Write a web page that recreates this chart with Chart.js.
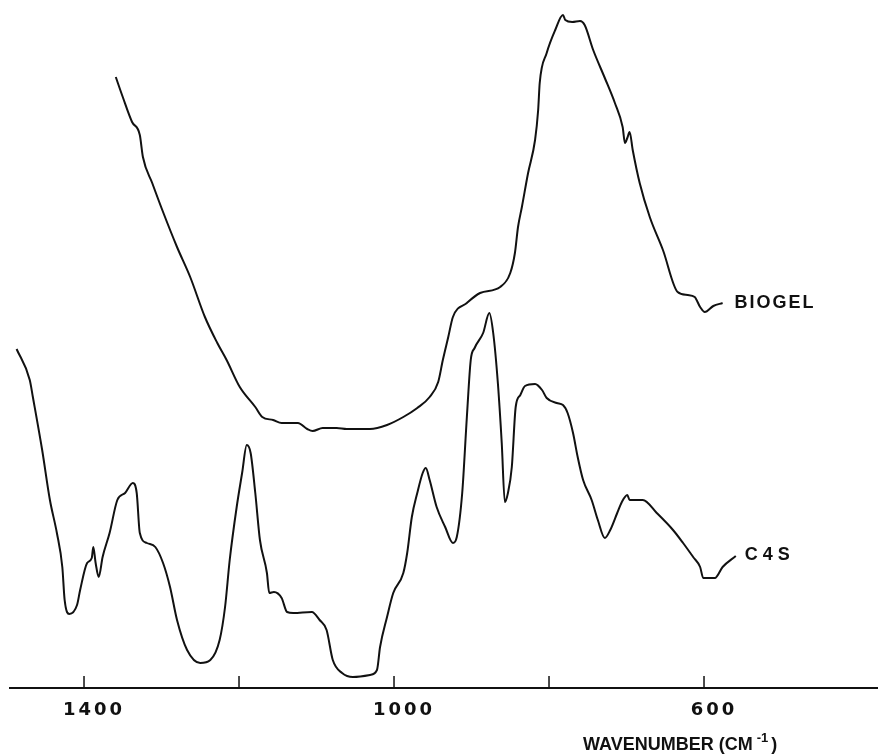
<!DOCTYPE html>
<html>
<head>
<meta charset="utf-8">
<script src="https://cdn.jsdelivr.net/npm/chart.js@4.4.1/dist/chart.umd.min.js"></script>
<style>
  body { margin: 0; background: #fff; }
  #wrap { width: 878px; height: 756px; }
</style>
</head>
<body>
<div id="wrap"><canvas id="grafico" width="878" height="756"></canvas></div>
<script>
// wavenumber (cm-1) and trace height above the baseline
const biogelWave = [1359, 1350, 1338, 1328, 1324, 1312, 1299, 1280, 1263, 1244, 1228, 1216, 1199, 1179, 1170, 1156, 1145, 1124, 1112, 1105, 1092, 1074, 1061, 1031, 1009, 988, 970, 954, 943, 937, 930, 924, 906, 889, 863, 850, 844, 840, 835, 827, 818, 814, 812, 803, 792, 782, 779, 770, 760, 754, 743, 728, 715, 705, 702, 699, 696, 692, 683, 670, 653, 634, 621, 612, 605, 599, 588, 576];
const biogelValue = [611, 591, 566, 553, 531, 505, 478, 441, 411, 371, 345, 328, 301, 281, 271, 268, 265, 265, 259, 257, 260, 260, 259, 259, 263, 271, 280, 291, 306, 328, 351, 371, 385, 395, 401, 415, 435, 461, 481, 515, 548, 578, 605, 635, 658, 673, 668, 666, 667, 663, 638, 610, 585, 561, 545, 550, 556, 538, 505, 471, 438, 396, 393, 391, 381, 376, 382, 385];

const c4sWave = [1487, 1470, 1466, 1454, 1444, 1435, 1428, 1425, 1419, 1409, 1405, 1396, 1390, 1388, 1385, 1381, 1376, 1367, 1357, 1347, 1337, 1332, 1328, 1319, 1308, 1298, 1289, 1280, 1267, 1250, 1237, 1225, 1218, 1212, 1203, 1196, 1190, 1185, 1179, 1173, 1164, 1161, 1155, 1145, 1138, 1130, 1106, 1096, 1087, 1079, 1067, 1053, 1031, 1022, 1018, 1009, 1001, 988, 983, 977, 970, 963, 959, 954, 945, 934, 924, 919, 912, 906, 901, 896, 885, 877, 872, 866, 861, 857, 853, 848, 843, 837, 831, 818, 809, 803, 790, 782, 776, 769, 763, 756, 745, 737, 728, 721, 712, 706, 699, 696, 679, 661, 640, 627, 614, 605, 601, 586, 576, 559];
const c4sValue = [339, 308, 291, 238, 188, 155, 121, 88, 74, 83, 98, 125, 130, 141, 125, 111, 131, 155, 188, 195, 205, 195, 155, 145, 141, 125, 101, 68, 38, 25, 28, 48, 81, 128, 181, 215, 243, 235, 195, 148, 115, 95, 96, 90, 76, 75, 76, 68, 58, 28, 15, 11, 13, 18, 41, 71, 95, 115, 135, 171, 195, 215, 220, 208, 181, 161, 145, 151, 195, 271, 328, 340, 355, 375, 355, 305, 245, 186, 195, 221, 281, 293, 302, 304, 298, 290, 285, 283, 275, 255, 231, 208, 188, 168, 150, 158, 175, 186, 193, 188, 188, 175, 158, 145, 131, 121, 110, 110, 121, 132];

const tickValues = [1400, 1200, 1000, 800, 600];
const tickLabels = ['1400', '', '1000', '', '600'];

const seriesNames = ['BIOGEL', 'C4S'];

function toPoints(xs, ys) {
    return xs.map((x, i) => ({ x: x, y: ys[i] }));
}

// tick marks pointing up, tick labels, curve labels and axis title
const extras = {
    id: 'extras',
    afterDraw(chart) {
        const ctx = chart.ctx;
        const xs = chart.scales.x;
        const base = chart.chartArea.bottom;
        ctx.save();
        ctx.strokeStyle = '#111';
        ctx.fillStyle = '#111';
        ctx.lineWidth = 1.5;
        ctx.textBaseline = 'middle';
        ctx.textAlign = 'center';
        ctx.font = 'bold 18px "DejaVu Sans", sans-serif';
        ctx.letterSpacing = '3px';
        tickValues.forEach((v, i) => {
            const px = xs.getPixelForValue(v);
            ctx.beginPath();
            ctx.moveTo(px, base);
            ctx.lineTo(px, base - 12);
            ctx.stroke();
            if (tickLabels[i]) {
                ctx.fillText(tickLabels[i], px + 10, base + 22);
            }
        });

        ctx.textAlign = 'left';
        ctx.font = 'bold 18px "Liberation Sans", Arial, sans-serif';
        const offsets = [[12, 0, '2px'], [9, -1, '5px']];
        chart.data.datasets.forEach((ds, i) => {
            const meta = chart.getDatasetMeta(i);
            const last = meta.data[meta.data.length - 1];
            ctx.letterSpacing = offsets[i][2];
            ctx.fillText(ds.label, last.x + offsets[i][0], last.y + offsets[i][1]);
        });

        // WAVENUMBER (CM-1)
        ctx.letterSpacing = '0px';
        ctx.font = 'bold 18px "Liberation Sans", Arial, sans-serif';
        let x = 583;
        const y = 745;
        const main = 'WAVENUMBER (CM';
        ctx.fillText(main, x, y);
        x += ctx.measureText(main).width + 4;
        ctx.font = 'bold 13px "Liberation Sans", Arial, sans-serif';
        ctx.fillText('-1', x, y - 7);
        x += ctx.measureText('-1').width + 3;
        ctx.font = 'bold 18px "Liberation Sans", Arial, sans-serif';
        ctx.fillText(')', x, y);
        ctx.restore();
    }
};

const grafico = new Chart(document.getElementById('grafico').getContext('2d'), {
    type: 'line',
    data: {
        datasets: [
            {
                label: seriesNames[0],
                data: toPoints(biogelWave, biogelValue),
                borderColor: '#111',
                borderWidth: 2,
                pointRadius: 0,
                fill: false,
                cubicInterpolationMode: 'monotone'
            },
            {
                label: seriesNames[1],
                data: toPoints(c4sWave, c4sValue),
                borderColor: '#111',
                borderWidth: 2,
                pointRadius: 0,
                fill: false,
                cubicInterpolationMode: 'monotone'
            }
        ]
    },
    options: {
        responsive: false,
        animation: false,
        layout: { padding: { left: 10, right: 0, top: 0, bottom: 0 } },
        plugins: {
            legend: { display: false },
            tooltip: { enabled: false }
        },
        scales: {
            x: {
                type: 'linear',
                reverse: true,
                min: 375.5,
                max: 1495.5,
                afterBuildTicks(scale) {
                    scale.ticks = tickValues.map(v => ({ value: v }));
                },
                afterFit(scale) {
                    scale.height = 68;
                },
                grid: { display: false, drawTicks: false },
                border: { display: true, color: '#111', width: 2 },
                ticks: { display: false }
            },
            y: {
                display: false,
                min: 0,
                max: 688
            }
        }
    },
    plugins: [extras]
});
</script>
</body>
</html>
